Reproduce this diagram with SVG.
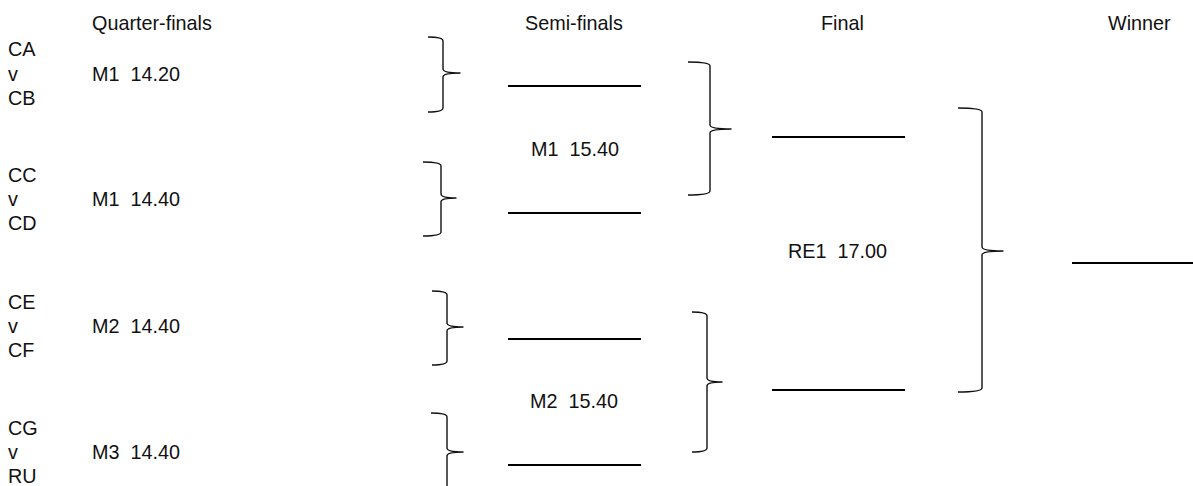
<svg xmlns="http://www.w3.org/2000/svg" width="1193" height="486" viewBox="0 0 1193 486">
<style>
text{font-family:"Liberation Sans",Arial,sans-serif;font-size:19.8px;fill:#111}
.brace{fill:none;stroke:#111;stroke-width:1.4;stroke-linejoin:round}
.slot{stroke:#000;stroke-width:2}
</style>
<rect width="1193" height="486" fill="#fff"/>
<g id="headers">
<text x="92" y="30">Quarter-finals</text>
<text x="525" y="30">Semi-finals</text>
<text x="821" y="30">Final</text>
<text x="1108" y="30">Winner</text>
</g>
<g id="qf1">
<text x="8" y="56">CA</text><text x="8" y="81">v</text><text x="8" y="105">CB</text>
<text x="92" y="81" xml:space="preserve">M1  14.20</text>
</g>
<g id="qf2">
<text x="8" y="182">CC</text><text x="8" y="206">v</text><text x="8" y="230">CD</text>
<text x="92" y="206" xml:space="preserve">M1  14.40</text>
</g>
<g id="qf3">
<text x="8" y="309">CE</text><text x="8" y="333">v</text><text x="8" y="357">CF</text>
<text x="92" y="333" xml:space="preserve">M2  14.40</text>
</g>
<g id="qf4">
<text x="8" y="435">CG</text><text x="8" y="459">v</text><text x="8" y="483">RU</text>
<text x="92" y="459" xml:space="preserve">M3  14.40</text>
</g>
<g id="sf1">
<line class="slot" x1="508" y1="86" x2="641" y2="86"/>
<line class="slot" x1="508" y1="213" x2="641" y2="213"/>
<text x="531" y="156" xml:space="preserve">M1  15.40</text>
</g>
<g id="sf2">
<line class="slot" x1="508" y1="339" x2="641" y2="339"/>
<line class="slot" x1="508" y1="465" x2="641" y2="465"/>
<text x="530" y="408" xml:space="preserve">M2  15.40</text>
</g>
<g id="final">
<line class="slot" x1="772" y1="137" x2="905" y2="137"/>
<line class="slot" x1="772" y1="390" x2="905" y2="390"/>
<text x="788" y="258" xml:space="preserve">RE1  17.00</text>
</g>
<g id="winner">
<line class="slot" x1="1072" y1="263" x2="1193" y2="263"/>
</g>
<g id="connectors">
<path class="brace" d="M428,37 Q443,37 443,41 L443,69 Q443,73 460,73 Q443,73 443,77 L443,108 Q443,112 428,112"/>
<path class="brace" d="M423,162 Q441,162 441,166 L441,194 Q441,198 456,198 Q441,198 441,202 L441,232 Q441,236 423,236"/>
<path class="brace" d="M432,291 Q447,291 447,295 L447,323 Q447,327 463,327 Q447,327 447,331 L447,361 Q447,365 432,365"/>
<path class="brace" d="M431,413 Q447,413 447,417 L447,448 Q447,452 463,452 Q447,452 447,456 L447,488 Q447,492 431,492"/>
<path class="brace" d="M688,62 Q710,62 710,66 L710,125 Q710,129 731,129 Q710,129 710,133 L710,191 Q710,195 688,195"/>
<path class="brace" d="M692,312 Q707,312 707,316 L707,378 Q707,382 722,382 Q707,382 707,386 L707,448 Q707,452 692,452"/>
<path class="brace" d="M958,108 Q982,108 982,112 L982,247 Q982,251 1003,251 Q982,251 982,255 L982,388 Q982,392 958,392"/>
</g>
</svg>
